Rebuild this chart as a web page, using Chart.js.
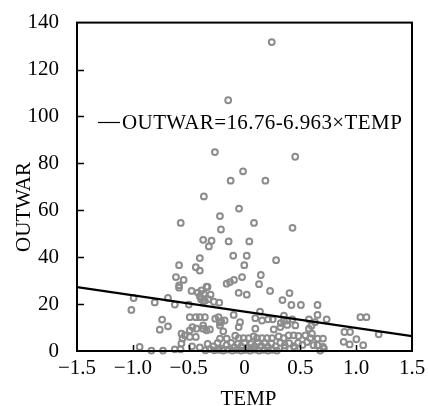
<!DOCTYPE html>
<html>
<head>
<meta charset="utf-8">
<script src="https://cdn.jsdelivr.net/npm/chart.js@4/dist/chart.umd.min.js"></script>
<style>
html, body { margin: 0; padding: 0; background: #fff; }
</style>
</head>
<body>
<canvas id="chart" width="428" height="406"></canvas>
<script>
const xTicks = [-1.5, -1.0, -0.5, 0, 0.5, 1.0, 1.5];
const yTicks = [0, 20, 40, 60, 80, 100, 120, 140];
const intercept = 16.76, slope = -6.963;
const equationText = 'OUTWAR=16.76-6.963\u00d7TEMP';

// [TEMP, OUTWAR]
const highPoints = [
	[0.244, 131.7], [-0.146, 106.9], [-0.265, 84.8], [0.454, 82.8], [-0.013, 76.6], [-0.124, 72.6],
	[0.187, 72.6], [-0.364, 65.9], [-0.049, 60.7], [-0.220, 57.5], [-0.571, 54.6], [0.085, 54.6],
	[0.430, 52.5], [-0.211, 51.8], [-0.370, 47.4], [-0.295, 47.0], [-0.319, 44.6], [-0.142, 46.7],
	[0.043, 46.7], [-0.101, 40.6], [0.020, 40.6], [-0.400, 39.6], [0.283, 38.7], [-0.586, 36.6],
	[-0.002, 36.6], [-0.436, 35.7], [-0.400, 34.3], [0.146, 32.4], [-0.614, 31.5], [-0.545, 30.3],
	[-0.022, 31.5], [-0.094, 30.3], [-0.130, 29.4], [-0.160, 28.7], [0.130, 28.5]
];
const midPoints = [
	[-0.586, 28.0], [-0.586, 27.0], [-0.331, 27.3], [-0.340, 27.4], [-0.474, 25.6], [0.229, 25.6],
	[-0.418, 24.9], [-0.364, 24.5], [-0.304, 24.0], [-0.385, 25.8], [-0.052, 24.8], [0.020, 24.0],
	[0.403, 24.7], [-0.993, 22.6], [-0.685, 22.6], [-0.389, 22.1], [-0.370, 21.4], [-0.325, 22.1],
	[-0.274, 21.0], [-0.226, 20.6], [-0.400, 23.3], [-0.355, 21.4], [-0.804, 20.7], [-0.624, 19.8],
	[-0.499, 19.8], [0.340, 21.7], [0.420, 19.6], [0.505, 19.6], [0.654, 19.6], [-1.013, 17.5],
	[0.139, 16.8], [0.654, 15.4]
];
const lowPoints = [
	[-0.738, 13.4], [-0.490, 14.4], [-0.436, 14.4], [-0.400, 14.4], [-0.355, 14.4], [-0.262, 13.8],
	[-0.232, 14.4], [-0.208, 12.6], [-0.178, 13.0], [-0.220, 12.1], [-0.097, 15.4], [-0.040, 12.3],
	[0.097, 14.0], [0.157, 13.0], [0.211, 13.5], [0.253, 13.5], [0.353, 15.1], [0.353, 13.0],
	[0.383, 13.0], [0.428, 13.5], [0.325, 11.9], [0.383, 11.1], [0.577, 13.5], [0.631, 12.3],
	[0.736, 13.5], [1.038, 14.4], [1.092, 14.4],
	[-0.759, 9.1], [-0.685, 10.5], [-0.466, 10.2], [-0.370, 10.9], [-0.430, 9.5], [-0.370, 9.5],
	[-0.310, 9.2], [-0.490, 8.8], [-0.340, 8.8], [-0.220, 10.9], [-0.190, 8.4], [-0.052, 10.2],
	[0.097, 9.5], [0.262, 9.2], [0.321, 10.2], [0.455, 10.9], [0.577, 9.5], [0.600, 10.8],
	[0.895, 8.1], [0.945, 8.1], [1.202, 7.1]
];
const floorPoints = [
	[-0.564, 7.4], [-0.535, 6.7], [-0.555, 5.3], [-0.490, 6.0], [-0.436, 6.0], [-0.219, 5.3],
	[-0.159, 5.3], [-0.083, 6.5], [-0.052, 5.5], [-0.008, 5.5], [0.037, 5.5], [0.082, 6.2],
	[0.112, 5.5], [0.157, 5.5], [0.202, 5.5], [0.247, 5.5], [0.306, 6.2], [0.351, 5.5],
	[0.396, 6.7], [0.440, 6.7], [0.483, 6.4], [0.545, 6.7], [0.590, 5.5], [0.604, 7.4],
	[0.654, 5.3], [0.703, 5.3],
	[-0.939, 1.7], [-0.565, 3.2], [-0.470, 2.0], [-0.400, 1.5], [-0.330, 3.0], [-0.280, 2.0],
	[-0.240, 3.5], [-0.200, 1.0], [-0.160, 2.5], [-0.120, 3.5], [-0.090, 1.5], [-0.060, 3.0],
	[-0.030, 2.0], [0.000, 3.5], [0.030, 1.5], [0.060, 3.0], [0.090, 2.0], [0.120, 3.6],
	[0.150, 2.2], [0.180, 3.4], [0.210, 1.8], [0.240, 3.2], [0.280, 2.0], [0.320, 3.5],
	[0.360, 2.4], [0.400, 3.3], [0.440, 2.0], [0.480, 3.5], [0.520, 2.6], [0.560, 3.8],
	[0.618, 2.5], [0.654, 2.5], [0.703, 1.8], [0.888, 3.9], [0.942, 2.8], [1.002, 5.0], [1.063, 2.5],
	[-0.834, 0.2], [-0.730, 0.2], [-0.624, 0.7], [-0.573, 0.7], [-0.350, 0.3], [-0.310, 0.8],
	[-0.270, 0.3], [-0.230, 0.5], [-0.190, 0.2], [-0.150, 0.6], [-0.110, 0.2], [-0.070, 0.5],
	[-0.030, 0.2], [0.010, 0.5], [0.050, 0.2], [0.090, 0.6], [0.130, 0.2], [0.170, 0.5],
	[0.210, 0.2], [0.250, 0.5], [0.290, 0.2], [0.360, 1.3], [0.450, 1.3], [0.678, 0.2], [0.711, 1.1]
];

const samples = highPoints.concat(midPoints, lowPoints, floorPoints).map(p => ({ x: p[0], y: p[1] }));
const fitLine = [-1.5, 1.5].map(t => ({ x: t, y: intercept + slope * t }));

const font = { family: '"Liberation Serif", "Times New Roman", serif', size: 21 };

function fmtX(v) {
	if (v === 0) return '0';
	return (v < 0 ? '\u2212' : '') + Math.abs(v).toFixed(1);
}

// box, inward ticks, axis titles and the equation label
const framePlugin = {
	id: 'frame',
	afterDraw(chart) {
		const { ctx, chartArea: a, scales: { x, y } } = chart;
		ctx.save();
		ctx.strokeStyle = '#000';
		ctx.lineWidth = 2;
		ctx.strokeRect(a.left, a.top, a.right - a.left, a.bottom - a.top);
		ctx.lineWidth = 1.5;
		ctx.beginPath();
		xTicks.slice(1, -1).forEach(v => {
			const px = Math.round(x.getPixelForValue(v)) + 0.5;
			ctx.moveTo(px, a.bottom);
			ctx.lineTo(px, a.bottom - 6);
		});
		yTicks.slice(1, -1).forEach(v => {
			const py = Math.round(y.getPixelForValue(v)) + 0.5;
			ctx.moveTo(a.left, py);
			ctx.lineTo(a.left + 7, py);
		});
		ctx.stroke();

		ctx.fillStyle = '#000';
		ctx.font = font.size + 'px ' + font.family;
		ctx.textAlign = 'center';
		ctx.textBaseline = 'alphabetic';
		ctx.fillText('TEMP', (a.left + a.right) / 2 + 4, 405);
		ctx.save();
		ctx.translate(30, 207);
		ctx.rotate(-Math.PI / 2);
		ctx.fillText('OUTWAR', 0, 0);
		ctx.restore();

		// equation label
		const ly = 122;
		ctx.lineWidth = 1.2;
		ctx.beginPath();
		ctx.moveTo(a.left + 21, ly + 0.5);
		ctx.lineTo(a.left + 43, ly + 0.5);
		ctx.stroke();
		ctx.textAlign = 'left';
		ctx.textBaseline = 'middle';
		ctx.letterSpacing = '0.4px';
		ctx.fillText(equationText, a.left + 45, ly + 1);
		ctx.restore();
	}
};

new Chart(document.getElementById('chart'), {
	type: 'scatter',
	data: {
		datasets: [{
			label: 'OUTWAR',
			data: samples,
			order: 1,
			clip: false,
			pointRadius: 2.9,
			pointHoverRadius: 2.9,
			pointBorderWidth: 2,
			borderColor: '#8c8c8c',
			backgroundColor: 'rgba(0,0,0,0)'
		}, {
			type: 'line',
			label: 'fit',
			data: fitLine,
			order: 0,
			borderColor: '#000',
			borderWidth: 2.2,
			pointRadius: 0,
			fill: false
		}]
	},
	options: {
		responsive: false,
		animation: false,
		devicePixelRatio: 1,
		layout: { padding: { top: 18, right: 16, left: 0, bottom: 0 } },
		plugins: {
			legend: { display: false },
			tooltip: { enabled: false }
		},
		scales: {
			x: {
				type: 'linear',
				min: -1.5,
				max: 1.5,
				afterBuildTicks: s => { s.ticks = xTicks.map(v => ({ value: v })); },
				afterFit: s => { s.height = 55; },
				ticks: { callback: fmtX, font: font, color: '#000', padding: -3, maxRotation: 0, autoSkip: false },
				grid: { display: false },
				border: { display: false }
			},
			y: {
				min: 0,
				max: 140,
				afterBuildTicks: s => { s.ticks = yTicks.map(v => ({ value: v })); },
				afterFit: s => { s.width = 77; },
				ticks: { font: font, color: '#000', padding: 10, autoSkip: false },
				grid: { display: false },
				border: { display: false }
			}
		}
	},
	plugins: [framePlugin]
});
</script>
</body>
</html>
